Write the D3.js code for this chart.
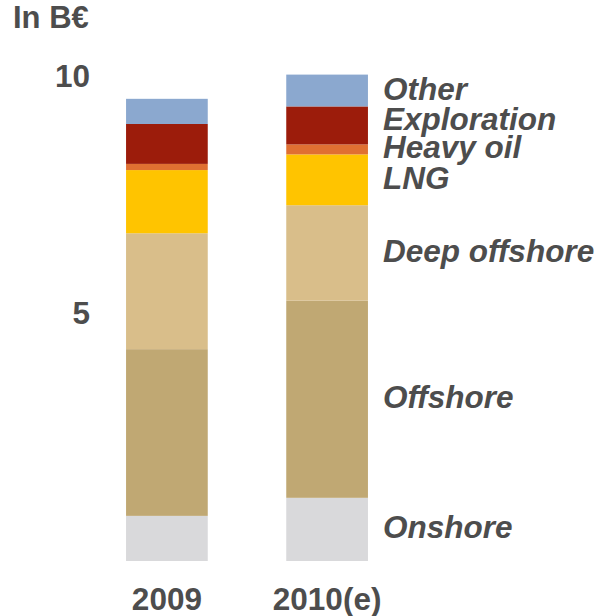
<!DOCTYPE html>
<html><head><meta charset="utf-8">
<script src="https://cdn.jsdelivr.net/npm/d3@7/dist/d3.min.js"></script>
<style>body{margin:0;background:#fff}svg{display:block}text{font-family:"Liberation Sans",Arial,sans-serif;font-weight:bold;fill:#4d4d4d}</style>
</head><body><svg id="c" width="600" height="616"></svg>
<script>
const years = ["2009", "2010(e)"];
const segments = ["Onshore", "Offshore", "Deep offshore", "LNG", "Heavy oil", "Exploration", "Other"];
const values2009 = [0.95, 3.51, 2.44, 1.33, 0.13, 0.84, 0.53];
const values2010 = [1.33, 4.15, 2.01, 1.07, 0.21, 0.80, 0.67];
const yTicks = [5, 10];
const colors = ["#d9d9db", "#c0a873", "#d9be8a", "#ffc400", "#e07032", "#9c1c0b", "#8ba8cf"];

const svg = d3.select("#c");
const series = [values2009, values2010];
const rows = years.map((yr, i) => {
  const o = {year: yr};
  segments.forEach((s, j) => o[s] = series[i][j]);
  return o;
});
const stack = d3.stack().keys(segments)(rows);

const x = d3.scaleBand().domain(years).range([86, 408]).paddingInner(0.49).paddingOuter(0.25);
const y = d3.scaleLinear().domain([0, 10]).range([561, 86]);
const color = d3.scaleOrdinal().domain(segments).range(colors);

svg.append("g").selectAll("g").data(stack).join("g")
  .attr("fill", d => color(d.key))
  .selectAll("rect").data(d => d).join("rect")
  .attr("x", d => x(d.data.year))
  .attr("width", x.bandwidth())
  .attr("y", d => y(d[1]))
  .attr("height", d => y(d[0]) - y(d[1]));

const FS = "31.5px";
// y axis tick labels
const yAxis = d3.axisLeft(y).tickValues(yTicks).tickSize(0).tickPadding(0).tickFormat(d3.format("d"));
const ya = svg.append("g").attr("transform", "translate(90,0)").call(yAxis);
ya.select(".domain").remove();
ya.selectAll("text").attr("dy", 0).style("font-size", FS).style("font-family", "Liberation Sans, Arial, sans-serif").style("font-weight", "bold").attr("fill", "#4d4d4d");

// x axis labels
const xAxis = d3.axisBottom(x).tickSize(0).tickPadding(0);
const xa = svg.append("g").attr("transform", "translate(0,610)").call(xAxis);
xa.select(".domain").remove();
xa.selectAll("text").attr("dy", 0).style("font-size", FS).style("font-family", "Liberation Sans, Arial, sans-serif").style("font-weight", "bold").attr("fill", "#4d4d4d");

// unit label
svg.append("text").attr("x", 13).attr("y", 28).style("font-size", "31px").text("In B\u20ac");

// segment labels next to last bar, resolved from bottom up with min spacing
const last = years[years.length - 1];
const lastIdx = years.length - 1;
const pos = stack.map(d => y((d[lastIdx][0] + d[lastIdx][1]) / 2) + 9);
for (let i = 1; i < pos.length; i++) pos[i] = Math.min(pos[i], pos[i - 1] - 28);
svg.append("g").selectAll("text").data(stack).join("text")
  .attr("x", x(last) + x.bandwidth() + 15)
  .attr("y", (d, i) => pos[i])
  .style("font-size", FS).style("font-style", "italic")
  .text(d => d.key);
</script></body></html>
